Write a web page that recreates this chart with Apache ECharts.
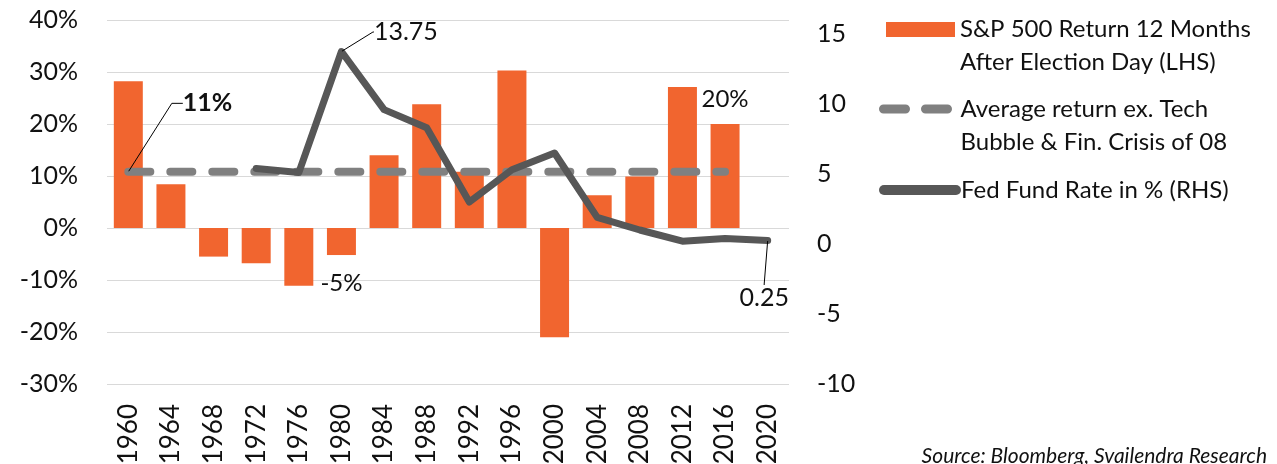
<!DOCTYPE html>
<html>
<head>
<meta charset="utf-8">
<script src="https://cdn.jsdelivr.net/npm/echarts@6/dist/echarts.min.js"></script>
<style>html,body{margin:0;padding:0;background:#fff}#c{width:1277px;height:464px}</style>
</head>
<body>
<div id="c"></div>
<script>
const years = ['1960','1964','1968','1972','1976','1980','1984','1988','1992','1996','2000','2004','2008','2012','2016','2020'];
const spReturn = [28.2, 8.4, -5.5, -6.8, -11.1, -5.2, 14.0, 23.8, 10.8, 30.3, -21.0, 6.3, 9.9, 27.1, 20.0, null];
const avgReturn = [10.8, 10.8, 10.8, 10.8, 10.8, 10.8, 10.8, 10.8, 10.8, 10.8, 10.8, 10.8, 10.8, 10.8, 10.8, null];
const fedRate = [null, null, null, 5.4, 5.1, 13.75, 9.6, 8.3, 3.0, 5.3, 6.5, 1.9, 1.0, 0.2, 0.4, 0.25];
const leftAxis = { min: -30, max: 40, interval: 10 };
const rightAxis = { min: -10, max: 16, interval: 5 };
const seriesNames = ['S&P 500 Return 12 Months After Election Day (LHS)', 'Average return ex. Tech Bubble & Fin. Crisis of 08', 'Fed Fund Rate in % (RHS)'];
const legendText = ['S&P 500 Return 12 Months\nAfter Election Day (LHS)', 'Average return ex. Tech\nBubble & Fin. Crisis of 08', 'Fed Fund Rate in % (RHS)'];
const barLabels = { '1980': '-5%', '2016': '20%' };
const avgLabels = { '1960': '11%' };
const fedLabels = { '1980': '13.75', '2020': '0.25' };

const FONT = 'Lato';
const TXT = '#111';
const ORANGE = '#F1652F';
const AVG = '#808080';
const FED = '#575757';
const AXIS_FS = 25;

const leader = { show: true, length2: 11, lineStyle: { color: '#000', width: 1 } };

const barData = spReturn.map((v, i) => {
  const y = years[i];
  if (!barLabels[y]) return v;
  const top = v >= 0;
  return {
    value: v,
    label: {
      show: true, formatter: barLabels[y], position: top ? 'top' : 'bottom',
      distance: top ? 13 : 16, fontSize: 24, fontFamily: FONT, color: TXT
    }
  };
});

const avgData = avgReturn.map((v, i) => {
  const y = years[i];
  if (!avgLabels[y]) return v;
  return {
    value: v, symbol: 'circle', symbolSize: 1,
    label: {
      show: true, formatter: avgLabels[y], position: [46, -68], align: 'left', verticalAlign: 'middle',
      padding: [0, 0, 0, 9], fontSize: 25, fontWeight: 'bold', fontFamily: FONT, color: TXT
    },
    labelLine: leader
  };
});

const fedData = fedRate.map((v, i) => {
  const y = years[i];
  if (!fedLabels[y]) return v;
  const above = y === '1980';
  return {
    value: v, symbol: 'circle', symbolSize: 1,
    label: above ? {
      show: true, formatter: fedLabels[y], position: [24, -19], align: 'left', verticalAlign: 'middle',
      padding: [0, 0, 0, 9], fontSize: 25, fontFamily: FONT, color: TXT
    } : {
      show: true, formatter: fedLabels[y], position: [-3, 34], align: 'center', verticalAlign: 'top',
      padding: [11, 0, 0, 0], fontSize: 25, fontFamily: FONT, color: TXT
    },
    labelLine: { show: true, length2: 1, lineStyle: { color: '#000', width: 1 } }
  };
});

const legendBase = {
  padding: 0, itemWidth: 72, itemHeight: 15, selectedMode: false, orient: 'vertical',
  textStyle: { fontSize: 24, fontFamily: FONT, color: TXT, lineHeight: 33 },
  formatter: (name) => {
    const t = legendText[seriesNames.indexOf(name)];
    return t.indexOf('\n') >= 0 ? '\n' + t : t;
  }
};

const chart = echarts.init(document.getElementById('c'));
chart.setOption({
  animation: false,
  backgroundColor: '#fff',
  grid: { left: 107, right: 488, top: 20, bottom: 80, containLabel: false, outerBoundsMode: 'none' },
  title: {
    text: 'Source: Bloomberg, Svailendra Research', right: 10, top: 446, padding: 0,
    textStyle: { fontStyle: 'italic', fontWeight: 'normal', fontSize: 21, fontFamily: FONT, color: TXT }
  },
  legend: [
    Object.assign({}, legendBase, { left: 886, itemWidth: 69, top: -20, data: [{ name: seriesNames[0], icon: 'rect' }] }),
    Object.assign({}, legendBase, { left: 879, top: 59.5, data: [{ name: seriesNames[1], itemStyle: { opacity: 0 },
      lineStyle: { width: 9, type: [22, 20], cap: 'round', color: AVG } }] }),
    Object.assign({}, legendBase, { left: 879, top: 173.5, data: [{ name: seriesNames[2], itemStyle: { opacity: 0 },
      lineStyle: { width: 10, cap: 'round', color: FED } }] })
  ],
  xAxis: {
    type: 'category', data: years,
    axisLine: { show: false, onZero: false }, axisTick: { show: false },
    axisLabel: { interval: 0, rotate: 90, margin: 20, fontSize: 26, fontFamily: FONT, color: TXT }
  },
  yAxis: [
    {
      type: 'value', min: leftAxis.min, max: leftAxis.max, interval: leftAxis.interval,
      axisLine: { show: false }, axisTick: { show: false },
      axisLabel: { formatter: '{value}%', margin: 29, fontSize: AXIS_FS, fontFamily: FONT, color: TXT },
      splitLine: { lineStyle: { color: '#d9d9d9', width: 1 } }
    },
    {
      type: 'value', min: rightAxis.min, max: rightAxis.max, interval: rightAxis.interval,
      axisLine: { show: false }, axisTick: { show: false }, splitLine: { show: false },
      axisLabel: { showMaxLabel: false, margin: 28, fontSize: AXIS_FS, fontFamily: FONT, color: TXT }
    }
  ],
  series: [
    { name: seriesNames[0], type: 'bar', yAxisIndex: 0, data: barData, barWidth: '68%', itemStyle: { color: ORANGE } },
    { name: seriesNames[1], type: 'line', yAxisIndex: 0, data: avgData, symbol: 'none', itemStyle: { color: AVG },
      lineStyle: { color: AVG, width: 8, type: [22, 20], cap: 'round' } },
    { name: seriesNames[2], type: 'line', yAxisIndex: 1, data: fedData, symbol: 'none', itemStyle: { color: FED },
      lineStyle: { color: FED, width: 7, cap: 'round', join: 'round' } }
  ]
});
</script>
</body>
</html>
